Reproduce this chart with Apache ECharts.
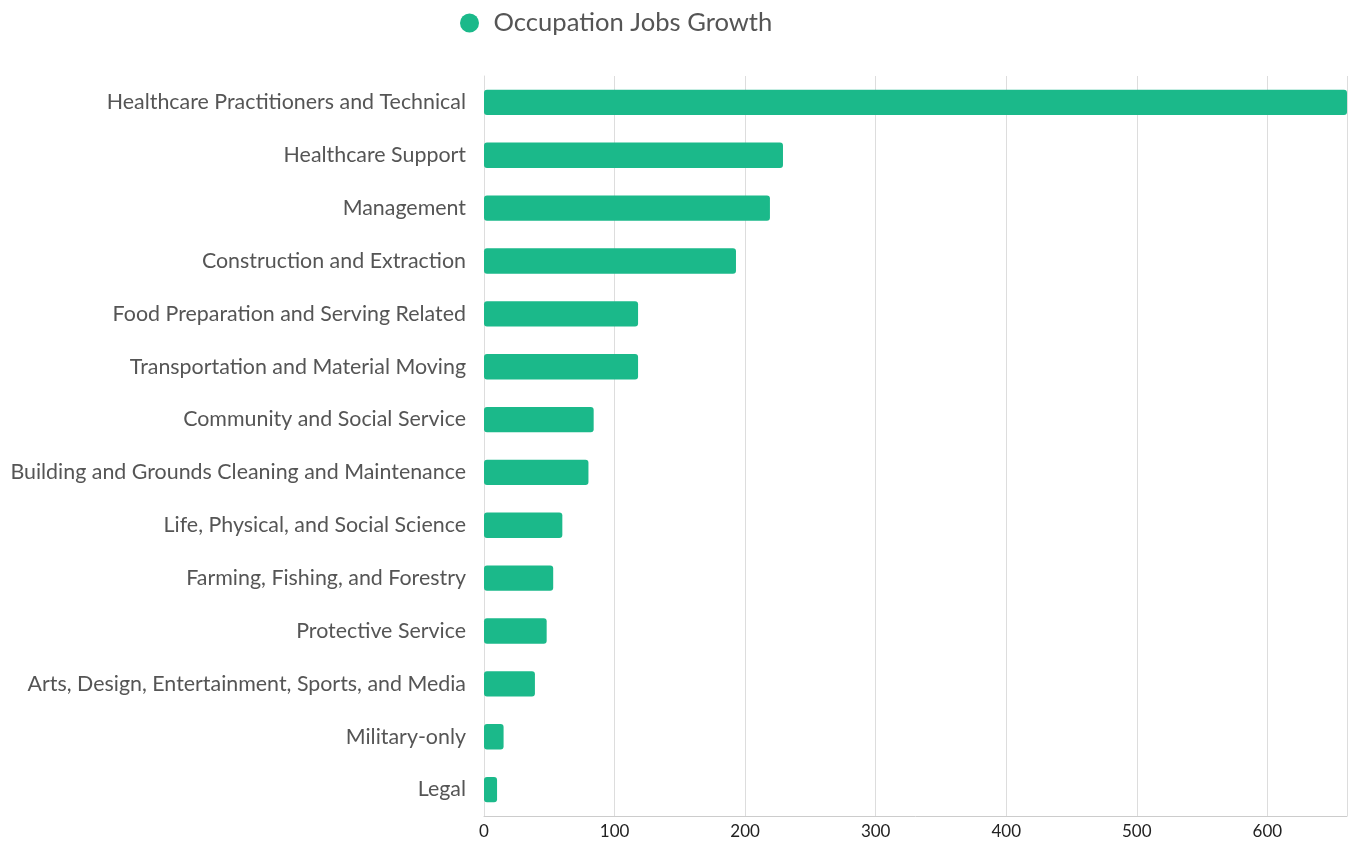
<!DOCTYPE html>
<html>
<head>
<meta charset="utf-8">
<script src="https://cdn.jsdelivr.net/npm/echarts@6/dist/echarts.min.js"></script>
<style>
  html, body { margin: 0; padding: 0; background: #fff; }
  #chart { width: 1361px; height: 842px; }
</style>
</head>
<body>
<div id="chart"></div>
<script>
const categories = [
  'Healthcare Practitioners and Technical',
  'Healthcare Support',
  'Management',
  'Construction and Extraction',
  'Food Preparation and Serving Related',
  'Transportation and Material Moving',
  'Community and Social Service',
  'Building and Grounds Cleaning and Maintenance',
  'Life, Physical, and Social Science',
  'Farming, Fishing, and Forestry',
  'Protective Service',
  'Arts, Design, Entertainment, Sports, and Media',
  'Military-only',
  'Legal'
];
const jobsGrowth = [661, 229, 219, 193, 118, 118, 84, 80, 60, 53, 48, 39, 15, 10];

const chart = echarts.init(document.getElementById('chart'));
chart.setOption({
  animation: false,
  textStyle: { fontFamily: 'Lato' },
  legend: {
    top: 5,
    left: 455,
    itemWidth: 38,
    itemHeight: 19,
    icon: 'circle',
    textStyle: { fontSize: 25.6, color: '#555', fontFamily: 'Lato' }
  },
  grid: { left: 484, right: 14, top: 76, bottom: 26 },
  xAxis: {
    type: 'value',
    min: 0,
    max: 'dataMax',
    interval: 100,
    axisLine: { show: true, lineStyle: { color: '#ccc' } },
    axisTick: { show: false },
    axisLabel: { fontSize: 17, color: '#222', margin: 7, fontFamily: 'Lato', showMaxLabel: false },
    splitLine: { lineStyle: { color: '#ddd' } }
  },
  yAxis: {
    type: 'category',
    inverse: true,
    data: categories,
    axisLine: { show: true, lineStyle: { color: '#ddd' } },
    axisTick: { show: false },
    axisLabel: { fontSize: 21.4, color: '#555', margin: 18, fontFamily: 'Lato' }
  },
  series: [{
    name: 'Occupation Jobs Growth',
    type: 'bar',
    data: jobsGrowth,
    barWidth: '48%',
    itemStyle: { color: '#1bb98a', borderRadius: 3 }
  }]
});
</script>
</body>
</html>
